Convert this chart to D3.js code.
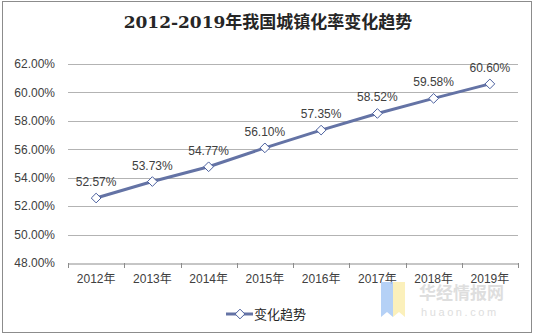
<!DOCTYPE html>
<html><head><meta charset="utf-8">
<script src="https://cdn.jsdelivr.net/npm/d3@7"></script>
<style>body{margin:0;background:#fff}svg{display:block}</style>
</head><body>
<script>
const years = ["2012年","2013年","2014年","2015年","2016年","2017年","2018年","2019年"];
const rates = [52.57, 53.73, 54.77, 56.10, 57.35, 58.52, 59.58, 60.60];
const yTicks = [48, 50, 52, 54, 56, 58, 60, 62];
const title = "2012-2019年我国城镇化率变化趋势";
const seriesName = "变化趋势";

const W = 535, H = 336;
const svg = d3.select("body").append("svg").attr("width", W).attr("height", H);
svg.append("rect").attr("x", 2.5).attr("y", 1.5).attr("width", 529).attr("height", 331)
  .attr("fill", "#fff").attr("stroke", "#8c8c8c").attr("stroke-width", 1);

svg.append("text").attr("x", 268).attr("y", 28).attr("text-anchor", "middle")
  .attr("font-family", "'DejaVu Serif','Noto Sans CJK SC',serif").attr("font-weight", "bold")
  .attr("font-size", 17).attr("fill", "#262626").text(title);

const x = d3.scaleBand().domain(years).range([68, 518]);
const y = d3.scaleLinear().domain([48, 62]).range([263, 64]);

const font = "'Liberation Sans', Arial, sans-serif";
// grid
svg.append("g").selectAll("line").data(yTicks.filter(d => d > 48)).join("line")
  .attr("x1", 68).attr("x2", 518).attr("y1", d => Math.round(y(d)) + 0.5).attr("y2", d => Math.round(y(d)) + 0.5)
  .attr("stroke", "#b3b3b3");

const yAxis = svg.append("g").attr("transform", "translate(68,0)")
  .call(d3.axisLeft(y).tickValues(yTicks).tickSize(0).tickPadding(13).tickFormat(d => d.toFixed(2) + "%"));
yAxis.select(".domain").remove();
yAxis.selectAll("text").attr("font-family", font).attr("font-size", 12).attr("fill", "#404040");

const xAxis = svg.append("g").attr("transform", `translate(0,${Math.round(y(48)) + 0.5})`)
  .call(d3.axisBottom(x).tickSize(0).tickPadding(11));
xAxis.select(".domain").attr("stroke", "#8c8c8c");
xAxis.selectAll("text").attr("font-family", "'Liberation Sans','Noto Sans CJK SC',sans-serif").attr("font-size", 12).attr("fill", "#404040");
// ticks at band edges
const edges = years.map(d => x(d)).concat([x.range()[1]]);
svg.append("g").selectAll("line").data(edges).join("line")
  .attr("x1", d => Math.round(d) + 0.5).attr("x2", d => Math.round(d) + 0.5)
  .attr("y1", Math.round(y(48))).attr("y2", Math.round(y(48)) + 5).attr("stroke", "#8c8c8c");

const cx = d => x(d) + x.bandwidth() / 2;
const lineColor = "#6473A5";
svg.append("path").datum(rates.map((v, i) => [years[i], v]))
  .attr("fill", "none").attr("stroke", lineColor).attr("stroke-width", 3).attr("stroke-linejoin", "round")
  .attr("d", d3.line().x(d => cx(d[0])).y(d => y(d[1])));

const diamond = d3.symbol().type(d3.symbolDiamond2).size(60);
svg.append("g").selectAll("path").data(rates).join("path")
  .attr("transform", (d, i) => `translate(${cx(years[i])},${y(d)})`)
  .attr("d", diamond).attr("fill", "#fff").attr("stroke", "#4a5f9e").attr("stroke-width", 1);

svg.append("g").selectAll("text").data(rates).join("text")
  .attr("x", (d, i) => cx(years[i])).attr("y", d => y(d) - 12)
  .attr("text-anchor", "middle").attr("font-family", font).attr("font-size", 12).attr("fill", "#404040")
  .text(d => d.toFixed(2) + "%");

// legend
const lg = svg.append("g");
lg.append("line").attr("x1", 226).attr("x2", 253).attr("y1", 314).attr("y2", 314).attr("stroke", lineColor).attr("stroke-width", 3);
lg.append("path").attr("transform", "translate(240,314)").attr("d", diamond).attr("fill", "#fff").attr("stroke", "#4a5f9e");
lg.append("text").attr("x", 254).attr("y", 319).attr("font-family", "'Noto Sans CJK SC',sans-serif").attr("font-size", 13).attr("fill", "#262626").text(seriesName);

// watermark
const wm = svg.append("g").attr("opacity", 0.85);
wm.append("path").attr("d", "M381,282 L393,282 L393,317 L387,312 L381,317 Z").attr("fill", "#a9c9f5");
wm.append("path").attr("d", "M393,282 L405,282 L405,317 L399,312 L393,317 Z").attr("fill", "#fbeeb0");
wm.append("text").attr("x", 419).attr("y", 299).attr("font-family", "'Noto Sans CJK SC',sans-serif").attr("font-weight", "bold")
  .attr("font-size", 17).attr("fill", "#d9d9d9").text("华经情报网");
wm.append("text").attr("x", 421).attr("y", 316).attr("font-family", font).attr("font-size", 11).attr("letter-spacing", 2.6)
  .attr("fill", "#d9d9d9").text("huaon.com");
</script>
</body></html>
